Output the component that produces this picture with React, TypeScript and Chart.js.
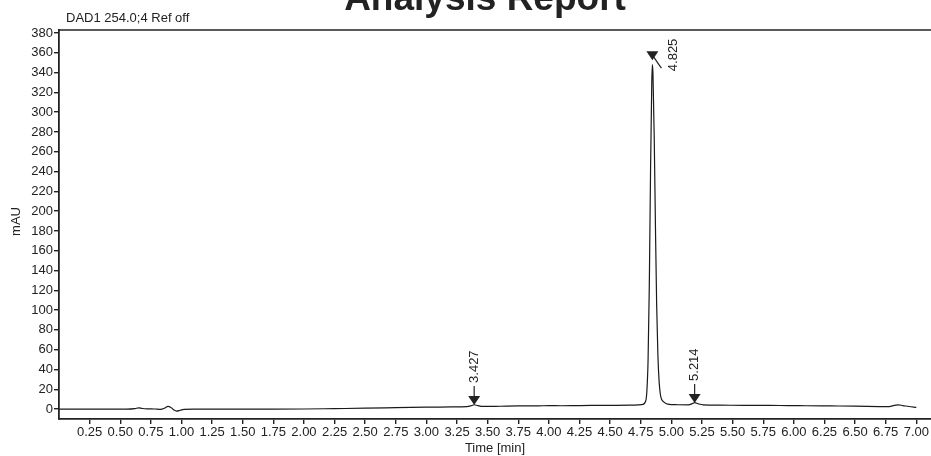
import { useEffect, useRef } from "react";
import { Chart, registerables } from "chart.js";

Chart.register(...registerables);

// Retention time (min) and absorbance (mAU)
const times = [
  0.0, 0.3, 0.55, 0.62, 0.65, 0.68, 0.72, 0.78, 0.83, 0.86, 0.89, 0.92, 0.94, 0.96, 0.99, 1.02,
  1.1, 1.5, 1.75, 2.0, 2.25, 2.5, 2.75, 3.0, 3.2, 3.33, 3.37, 3.39, 3.42, 3.46, 3.6, 3.75, 3.9,
  4.0, 4.1, 4.25, 4.4, 4.55, 4.7, 4.76, 4.79, 4.8, 4.81, 4.82, 4.83, 4.84, 4.845, 4.85, 4.86,
  4.87, 4.88, 4.89, 4.9, 4.91, 4.92, 4.94, 4.97, 5.05, 5.14, 5.17, 5.19, 5.22, 5.26, 5.4, 5.6,
  5.8, 5.95, 6.1, 6.3, 6.5, 6.7, 6.78, 6.82, 6.85, 6.89, 6.94, 7.0,
];
const mAU = [
  0, 0, 0, 0.5, 1.3, 0.6, 0.2, 0.1, -0.3, 0.8, 2.7, 1.0, -1.0, -2.0, -1.2, -0.2,
  0, 0, 0, 0.1, 0.5, 0.9, 1.4, 1.9, 2.3, 2.5, 3.6, 4.4, 3.5, 2.7, 2.9, 3.2, 3.2,
  3.6, 3.4, 3.6, 3.7, 3.8, 4.1, 4.6, 8, 18, 50, 125, 240, 330, 348, 338, 275,
  185, 105, 55, 28, 15, 10, 7, 5, 4.4, 4.3, 5.5, 6.5, 5.3, 4.3, 4.0, 3.8,
  3.8, 3.5, 3.4, 3.2, 3.0, 2.6, 2.5, 3.8, 4.3, 3.6, 2.6, 1.8,
];

const xTickValues = [
  0.25, 0.5, 0.75, 1.0, 1.25, 1.5, 1.75, 2.0, 2.25, 2.5, 2.75, 3.0, 3.25, 3.5,
  3.75, 4.0, 4.25, 4.5, 4.75, 5.0, 5.25, 5.5, 5.75, 6.0, 6.25, 6.5, 6.75, 7.0,
];
const xTickLabels = [
  "0.25", "0.50", "0.75", "1.00", "1.25", "1.50", "1.75", "2.00", "2.25", "2.50", "2.75", "3.00", "3.25", "3.50",
  "3.75", "4.00", "4.25", "4.50", "4.75", "5.00", "5.25", "5.50", "5.75", "6.00", "6.25", "6.50", "6.75", "7.00",
];
const yTickValues = [0, 20, 40, 60, 80, 100, 120, 140, 160, 180, 200, 220, 240, 260, 280, 300, 320, 340, 360, 380];

// Peak markers
const peakTimes = [3.39, 4.845, 5.19];
const peakMarkY = [4.2, 352.5, 6.2];
const peakLabels = ["3.427", "4.825", "5.214"];

const titleText = "Analysis Report";
const signalText = "DAD1 254.0;4 Ref off";
const yTitle = "mAU";
const xTitle = "Time [min]";

const FONT = '"Liberation Sans", Arial, Helvetica, sans-serif';
const INK = "#222";

export default function App() {
  const ref = useRef<HTMLCanvasElement | null>(null);

  useEffect(() => {
    const canvas = ref.current;
    if (!canvas) return;

    const overlay = {
      id: "overlay",
      afterDraw(chart: any) {
        const ctx = chart.ctx as CanvasRenderingContext2D;
        const area = chart.chartArea;
        const xs = chart.scales.x;
        const ys = chart.scales.y;
        ctx.save();
        // top border
        ctx.strokeStyle = INK;
        ctx.lineWidth = 1.6;
        ctx.beginPath();
        ctx.moveTo(area.left, area.top);
        ctx.lineTo(chart.width, area.top);
        ctx.stroke();

        ctx.fillStyle = INK;
        // title
        ctx.font = `bold 37px ${FONT}`;
        ctx.textAlign = "center";
        ctx.textBaseline = "alphabetic";
        ctx.fillText(titleText, 485, 10);
        // signal name
        ctx.font = `13px ${FONT}`;
        ctx.textAlign = "left";
        ctx.fillText(signalText, 66, 21.5);
        // x title
        ctx.textAlign = "center";
        ctx.fillText(xTitle, (area.left + area.right) / 2, 451.5);
        // y title
        ctx.save();
        ctx.translate(19.5, (area.top + area.bottom) / 2 - 3);
        ctx.rotate(-Math.PI / 2);
        ctx.textAlign = "center";
        ctx.fillText(yTitle, 0, 0);
        ctx.restore();

        // peak markers
        peakTimes.forEach((t, i) => {
          const ax = xs.getPixelForValue(t);
          const ay = ys.getPixelForValue(peakMarkY[i]);
          ctx.fillStyle = INK;
          ctx.beginPath();
          ctx.moveTo(ax - 6, ay - 9);
          ctx.lineTo(ax + 6, ay - 9);
          ctx.lineTo(ax, ay);
          ctx.closePath();
          ctx.fill();
          ctx.strokeStyle = INK;
          ctx.lineWidth = 1.2;
          ctx.beginPath();
          let tx: number, ty: number;
          if (peakMarkY[i] > 100) {
            ctx.moveTo(ax, ay - 5);
            ctx.lineTo(ax + 9, ay + 8);
            tx = ax + 21;
            ty = ay + 11;
          } else {
            ctx.moveTo(ax, ay - 9);
            ctx.lineTo(ax, ay - 19);
            tx = ax;
            ty = ay - 22;
          }
          ctx.stroke();
          ctx.save();
          ctx.translate(tx, ty);
          ctx.rotate(-Math.PI / 2);
          ctx.font = `13px ${FONT}`;
          ctx.textAlign = "left";
          ctx.textBaseline = "middle";
          ctx.fillText(peakLabels[i], 0, 0);
          ctx.restore();
        });
        ctx.restore();
      },
    };

    const chart = new Chart(canvas, {
      type: "line",
      data: {
        datasets: [
          {
            data: times.map((t, i) => ({ x: t, y: mAU[i] })),
            borderColor: "#1a1a1a",
            borderWidth: 1.2,
            pointRadius: 0,
            cubicInterpolationMode: "monotone",
            fill: false,
          },
        ],
      },
      options: {
        responsive: false,
        animation: false,
        events: [],
        layout: { padding: { top: 30, right: 0, left: 0, bottom: 0 } },
        plugins: { legend: { display: false }, tooltip: { enabled: false }, title: { display: false } },
        scales: {
          x: {
            type: "linear",
            min: 0,
            max: 7.12,
            afterFit: (s: any) => {
              s.height = 37;
            },
            afterBuildTicks: (s: any) => {
              s.ticks = xTickValues.map((v) => ({ value: v }));
            },
            ticks: {
              autoSkip: false,
              maxRotation: 0,
              minRotation: 0,
              padding: 1,
              color: INK,
              font: { family: FONT, size: 13 },
              callback: (v: any) => {
                const idx = xTickValues.findIndex((tv) => Math.abs(tv - Number(v)) < 1e-6);
                return idx >= 0 ? xTickLabels[idx] : "";
              },
            },
            grid: { drawOnChartArea: false, drawTicks: true, tickLength: 5, color: INK, lineWidth: 1.4 },
            border: { display: true, color: INK, width: 1.8 },
          },
          y: {
            type: "linear",
            min: -10,
            max: 383,
            afterFit: (s: any) => {
              s.width = 59;
            },
            afterBuildTicks: (s: any) => {
              s.ticks = yTickValues.map((v) => ({ value: v }));
            },
            ticks: {
              autoSkip: false,
              padding: 1,
              color: INK,
              font: { family: FONT, size: 13 },
              callback: (v: any) => String(v),
            },
            grid: { drawOnChartArea: false, drawTicks: true, tickLength: 5, color: INK, lineWidth: 1.4 },
            border: { display: true, color: INK, width: 1.8 },
          },
        },
      },
      plugins: [overlay],
    } as any);

    return () => chart.destroy();
  }, []);

  return (
    <div style={{ position: "fixed", left: 0, top: 0, width: 931, height: 456, background: "#fff" }}>
      <canvas ref={ref} width={931} height={456} style={{ display: "block" }} />
    </div>
  );
}
